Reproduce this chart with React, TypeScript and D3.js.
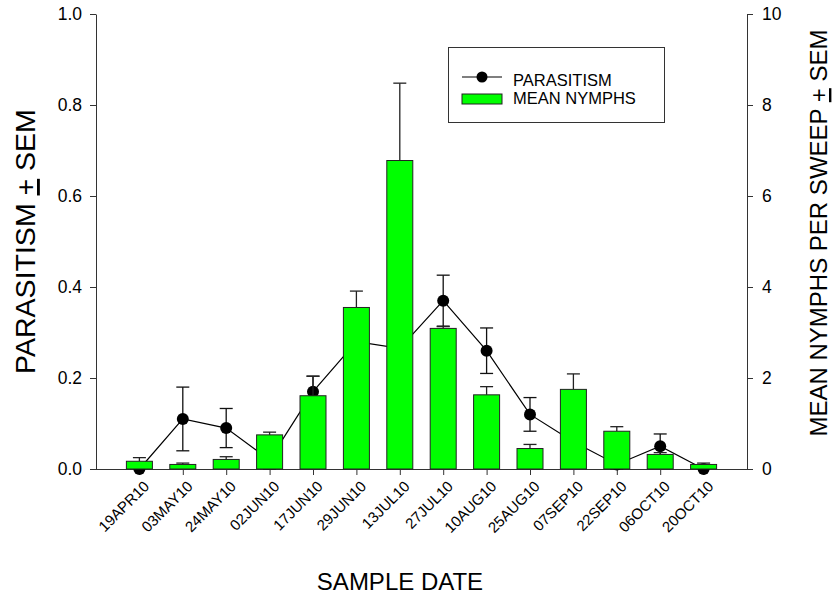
import React, { useEffect, useRef } from "react";
import * as d3 from "d3";

const dates = ["19APR10", "03MAY10", "24MAY10", "02JUN10", "17JUN10", "29JUN10", "13JUL10",
  "27JUL10", "10AUG10", "25AUG10", "07SEP10", "22SEP10", "06OCT10", "20OCT10"];
const parasitism = [0, 0.11, 0.09, 0.02, 0.17, 0.28, 0.265, 0.37, 0.26, 0.12, 0.06, 0.01, 0.05, 0];
const parasitismSem = [0, 0.07, 0.043, 0.02, 0.034, 0.04, 0.05, 0.056, 0.05, 0.037, 0.03, 0.01, 0.027, 0];
const nymphs = [0.17, 0.10, 0.21, 0.75, 1.61, 3.55, 6.78, 3.09, 1.63, 0.45, 1.75, 0.83, 0.32, 0.10];
const nymphsSem = [0.08, 0.03, 0.06, 0.06, 0.43, 0.36, 1.70, 0.04, 0.18, 0.09, 0.34, 0.10, 0.04, 0.03];
const leftTicks = [0, 0.2, 0.4, 0.6, 0.8, 1.0];
const rightTicks = [0, 2, 4, 6, 8, 10];

const FONT = "'Liberation Sans', Arial, sans-serif";

const App = () => {
  const ref = useRef<SVGGElement>(null);

  useEffect(() => {
    const g = d3.select(ref.current);
    g.selectAll("*").remove();

    const left = 96, right = 747, top = 14, bottom = 469;
    const step = (right - left) / (dates.length + 1);
    const x = d3.scalePoint().domain(dates).range([left + step, right - step]);
    const yL = d3.scaleLinear().domain([0, 1]).range([bottom, top]);
    const yR = d3.scaleLinear().domain([0, 10]).range([bottom, top]);
    const barW = 26;
    const capW = 6.5;
    const axisColor = "#333";

    // left axis
    const yAxisL = d3.axisLeft(yL).tickValues(leftTicks).tickFormat(d3.format(".1f"))
      .tickSize(6).tickSizeOuter(0).tickPadding(8);
    const gl = g.append("g").attr("transform", `translate(${left},0)`).call(yAxisL);
    gl.selectAll("text").attr("font-family", FONT).attr("font-size", 17.5).attr("fill", "#000");
    gl.selectAll("line, path").attr("stroke", axisColor);

    // right axis
    const yAxisR = d3.axisRight(yR).tickValues(rightTicks).tickFormat(d3.format("d"))
      .tickSize(6).tickSizeOuter(0).tickPadding(9);
    const gr = g.append("g").attr("transform", `translate(${right},0)`).call(yAxisR);
    gr.selectAll("text").attr("font-family", FONT).attr("font-size", 17.5).attr("fill", "#000");
    gr.selectAll("line, path").attr("stroke", axisColor);

    // bottom axis
    const xAxis = d3.axisBottom(x).tickSize(6).tickSizeOuter(0).tickPadding(0);
    const gx = g.append("g").attr("transform", `translate(0,${bottom})`).call(xAxis);
    gx.select(".domain").attr("d", `M${left},0.5H${right}`).attr("stroke", axisColor);
    gx.selectAll("line").attr("stroke", axisColor);
    gx.selectAll("text")
      .attr("font-family", FONT).attr("font-size", 15).attr("fill", "#000")
      .attr("text-anchor", "end").attr("dy", null)
      .attr("transform", "translate(6,14) rotate(-45)");

    // parasitism line + error bars + points
    const pts = dates.map((d, i) => ({ d, v: parasitism[i], s: parasitismSem[i] }));
    const line = d3.line<any>().x(p => x(p.d)!).y(p => yL(p.v));
    g.append("path").attr("d", line(pts)).attr("fill", "none").attr("stroke", "#000").attr("stroke-width", 1.2);
    const pe = g.append("g").attr("stroke", "#111").attr("stroke-width", 1.3);
    pts.filter(p => p.s > 0).forEach(p => {
      const cx = x(p.d)!;
      pe.append("line").attr("x1", cx).attr("x2", cx).attr("y1", yL(p.v - p.s)).attr("y2", yL(p.v + p.s));
      pe.append("line").attr("x1", cx - capW).attr("x2", cx + capW).attr("y1", yL(p.v + p.s)).attr("y2", yL(p.v + p.s));
      pe.append("line").attr("x1", cx - capW).attr("x2", cx + capW).attr("y1", yL(p.v - p.s)).attr("y2", yL(p.v - p.s));
    });
    g.append("g").selectAll("circle").data(pts).join("circle")
      .attr("cx", p => x(p.d)!).attr("cy", p => yL(p.v)).attr("r", 6).attr("fill", "#000");

    // bars with upper error
    const bars = dates.map((d, i) => ({ d, v: nymphs[i], s: nymphsSem[i] }));
    const be = g.append("g").attr("stroke", "#222").attr("stroke-width", 1.3);
    bars.forEach(b => {
      const cx = x(b.d)!;
      be.append("line").attr("x1", cx).attr("x2", cx).attr("y1", yR(b.v)).attr("y2", yR(b.v + b.s));
      be.append("line").attr("x1", cx - capW).attr("x2", cx + capW).attr("y1", yR(b.v + b.s)).attr("y2", yR(b.v + b.s));
    });
    g.append("g").selectAll("rect").data(bars).join("rect")
      .attr("x", b => x(b.d)! - barW / 2).attr("width", barW)
      .attr("y", b => yR(b.v)).attr("height", b => bottom - yR(b.v))
      .attr("fill", "#00ff00").attr("stroke", "#222").attr("stroke-width", 1);

    // legend
    const lg = g.append("g");
    lg.append("rect").attr("x", 448.5).attr("y", 47.5).attr("width", 216).attr("height", 75)
      .attr("fill", "#fff").attr("stroke", "#333");
    lg.append("line").attr("x1", 462).attr("x2", 502).attr("y1", 77).attr("y2", 77).attr("stroke", "#000").attr("stroke-width", 1.2);
    lg.append("circle").attr("cx", 482).attr("cy", 77).attr("r", 5.5).attr("fill", "#000");
    lg.append("rect").attr("x", 462).attr("y", 94).attr("width", 40).attr("height", 10)
      .attr("fill", "#00ff00").attr("stroke", "#222");
    lg.append("text").attr("x", 513).attr("y", 86).text("PARASITISM")
      .attr("font-family", FONT).attr("font-size", 16.5);
    lg.append("text").attr("x", 513).attr("y", 104).text("MEAN NYMPHS")
      .attr("font-family", FONT).attr("font-size", 16.5);

    // axis titles
    g.append("text").attr("x", 400).attr("y", 590).attr("text-anchor", "middle")
      .attr("font-family", FONT).attr("font-size", 24).text("SAMPLE DATE");

    const ltitle = g.append("text").attr("transform", `translate(35,${(top + bottom) / 2}) rotate(-90)`)
      .attr("text-anchor", "middle").attr("font-family", FONT).attr("font-size", 28.5);
    ltitle.append("tspan").text("PARASITISM ");
    ltitle.append("tspan").attr("text-decoration", "underline").text("+");
    ltitle.append("tspan").text(" SEM");

    const rtitle = g.append("text").attr("transform", `translate(827,233) rotate(-90)`)
      .attr("text-anchor", "middle").attr("font-family", FONT).attr("font-size", 24);
    rtitle.append("tspan").text("MEAN NYMPHS PER SWEEP ");
    rtitle.append("tspan").attr("text-decoration", "underline").text("+");
    rtitle.append("tspan").text(" SEM");
  }, []);

  return (
    <svg width={833} height={601} style={{ position: "absolute", left: 0, top: 0, background: "#fff" }}>
      <g ref={ref} />
    </svg>
  );
};

export default App;
